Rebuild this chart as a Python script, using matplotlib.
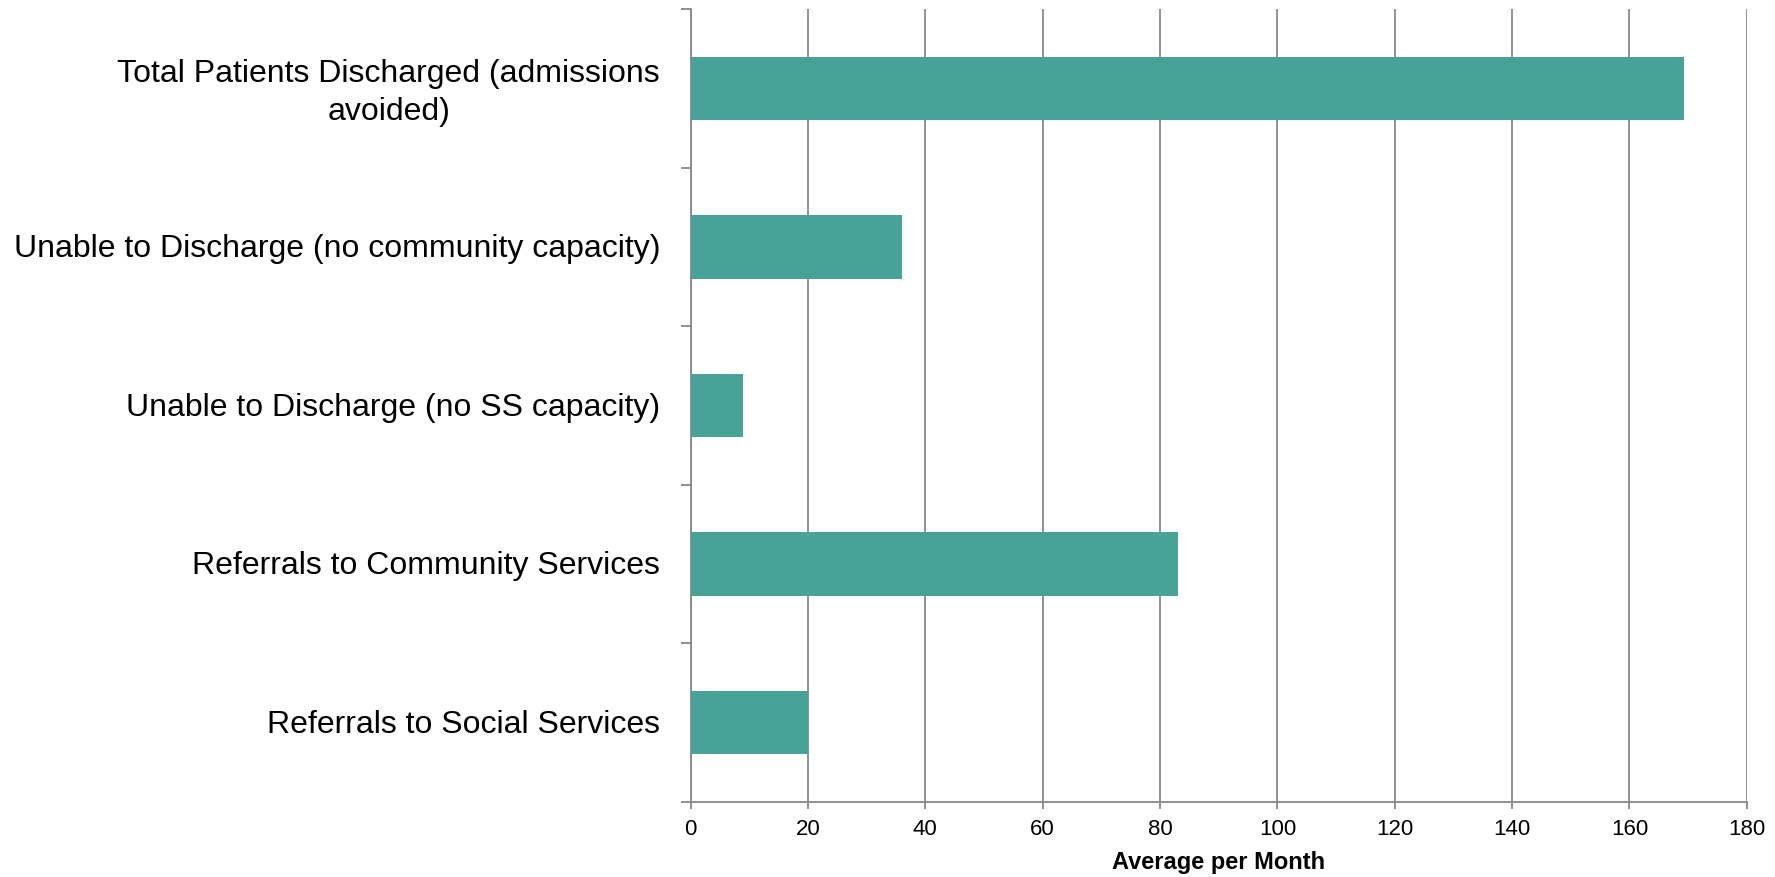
import matplotlib
matplotlib.use("Agg")
import matplotlib.pyplot as plt
import matplotlib.transforms as mtransforms
import numpy as np

categories = [
    "Total Patients Discharged (admissions\navoided)",
    "Unable to Discharge (no community capacity)",
    "Unable to Discharge (no SS capacity)",
    "Referrals to Community Services",
    "Referrals to Social Services",
]
values = [169.3, 36, 9, 83, 20]
x_ticks = [0, 20, 40, 60, 80, 100, 120, 140, 160, 180]
x_label = "Average per Month"

plt.rcParams['font.family'] = ['Liberation Sans', 'DejaVu Sans']

fig = plt.figure(figsize=(17.75, 8.78), dpi=100)
ax = fig.add_axes([0.3891, 0.0858, 0.9841 - 0.3891, 0.9886 - 0.0858])

gray = "#888888"
bar_color = "#48A397"

y = np.arange(len(categories))
ax.barh(y, values, height=0.4, color=bar_color, zorder=3)

ax.set_xlim(0, 180)
ax.set_ylim(len(categories) - 0.5, -0.5)
ax.set_xticks(x_ticks)
ax.set_xticklabels([str(t) for t in x_ticks], fontsize=16)
ax.set_yticks(y)
ax.set_yticklabels(categories, fontsize=23, multialignment='center', linespacing=1.35)
ax.set_yticks(np.arange(-0.5, len(categories), 1.0), minor=True)

ax.tick_params(axis='y', which='major', length=0, pad=22)
ax.tick_params(axis='y', which='minor', length=7, width=1.3, color=gray, direction='out')
ax.tick_params(axis='x', which='major', length=5, width=1.3, color=gray, direction='out', pad=7)

ax.grid(axis='x', color=gray, linewidth=1.3, zorder=0)
ax.set_axisbelow(True)

for s in ['top', 'right']:
    ax.spines[s].set_visible(False)
for s in ['left', 'bottom']:
    ax.spines[s].set_color(gray)
    ax.spines[s].set_linewidth(1.3)

ax.set_xlabel(x_label, fontsize=17, fontweight='bold', labelpad=8)

# nudge all y labels slightly up to match reference placement
for i, lab in enumerate(ax.get_yticklabels()):
    dy = 4 / 100 if i == 0 else 2 / 100
    lab.set_transform(lab.get_transform() + mtransforms.ScaledTranslation(0, dy, fig.dpi_scale_trans))

fig.savefig("out.png", dpi=100)
